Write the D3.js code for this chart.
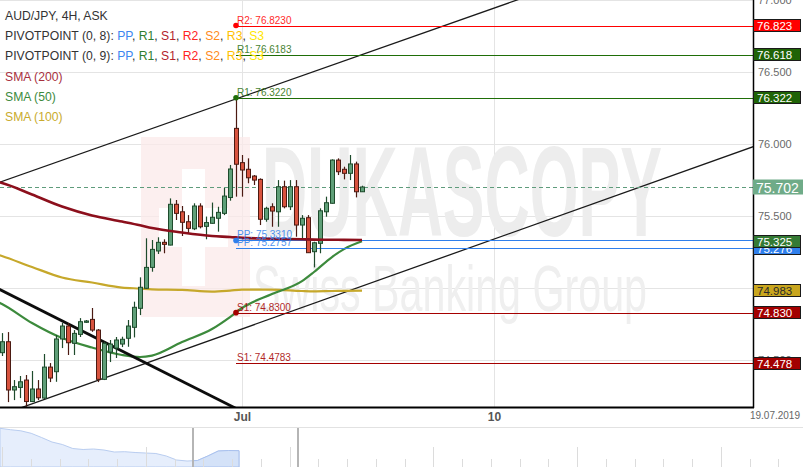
<!DOCTYPE html>
<html><head><meta charset="utf-8">
<script src="https://cdn.jsdelivr.net/npm/d3@7/dist/d3.min.js"></script>
<style>
html,body{margin:0;padding:0;background:#fff;overflow:hidden}
svg{display:block;font-family:"Liberation Sans",Arial,Helvetica,sans-serif}
</style></head><body>
<svg id="c" width="803" height="467"></svg>
<script>
// ---------------- DATA ----------------
const title = "AUD/JPY, 4H, ASK";
const opens  = [74.552,74.628,74.293,74.311,74.362,74.213,74.300,74.237,74.452,74.420,74.647,74.737,74.617,74.679,74.763,74.783,74.709,74.367,74.556,74.584,74.612,74.652,74.728,74.860,74.999,75.144,75.258,75.318,75.299,75.582,75.530,75.461,75.412,75.570,75.429,75.450,75.485,75.519,75.629,76.109,75.871,75.825,75.778,75.755,75.478,75.565,75.530,75.704,75.565,75.704,75.438,75.489,75.253,75.311,75.530,75.589,75.889,75.825,75.797,75.862,75.669];
const highs  = [74.688,74.695,74.362,74.390,74.397,74.425,74.362,74.543,74.480,74.674,74.758,74.758,74.709,74.792,74.779,74.862,74.716,74.628,74.640,74.661,74.663,74.779,74.906,75.075,75.346,75.334,75.353,75.339,75.623,75.612,75.570,75.507,75.589,75.589,75.497,75.594,75.565,75.695,75.855,76.322,75.924,75.901,75.785,75.762,75.565,75.589,75.750,75.746,75.750,75.750,75.507,75.507,75.322,75.554,75.635,75.894,75.901,75.843,75.924,75.878,75.711];
const lows   = [74.529,74.209,74.223,74.237,74.177,74.209,74.223,74.230,74.348,74.350,74.584,74.536,74.536,74.661,74.758,74.697,74.348,74.362,74.487,74.515,74.591,74.593,74.658,74.813,74.995,75.114,75.237,75.242,75.297,75.473,75.362,75.376,75.403,75.415,75.339,75.448,75.392,75.507,75.607,75.635,75.635,75.728,75.716,75.438,75.461,75.426,75.426,75.554,75.542,75.357,75.339,75.246,75.144,75.242,75.496,75.587,75.785,75.755,75.750,75.630,75.669];
const closes = [74.628,74.293,74.316,74.350,74.213,74.300,74.239,74.452,74.376,74.647,74.737,74.621,74.686,74.767,74.772,74.709,74.367,74.617,74.612,74.640,74.645,74.737,74.867,75.006,75.144,75.269,75.318,75.304,75.582,75.519,75.457,75.415,75.570,75.426,75.455,75.492,75.526,75.639,75.827,75.860,75.820,75.766,75.750,75.478,75.554,75.535,75.704,75.565,75.704,75.438,75.485,75.246,75.315,75.537,75.593,75.889,75.808,75.797,75.862,75.669,75.702];
const lastPrice = 75.702;

const smaIdx = [-1,0,5,10,15,20,23,25,30,35,38,40,45,50,52,55,57,60];
const sma200 = [75.740,75.730,75.650,75.566,75.504,75.462,75.436,75.417,75.386,75.362,75.355,75.349,75.343,75.339,75.337,75.336,75.335,75.334];
const sma50  = [74.910,74.890,74.758,74.654,74.588,74.536,74.522,74.532,74.626,74.716,74.799,74.862,74.959,75.049,75.112,75.216,75.271,75.325];
const sma100 = [75.237,75.223,75.147,75.074,75.039,75.004,74.997,74.992,74.988,74.976,74.983,74.990,74.990,74.980,74.978,74.980,74.981,74.983];

const pivotNames  = ["R2","R1","PP","S1","R1","PP","S1"];
const pivotValues = [76.8230,76.3220,75.3310,74.8300,76.6183,75.2757,74.4783];
const pivotSet    = [8,8,8,8,9,9,9];
const pivotStart  = 39;

// trend lines, two anchors each: [index, price]
const trendUpper = [[0,75.741],[39,76.313]];
const trendLower = [[4,74.182],[120,75.905]];
const trendDown  = [[0,74.983],[35,74.249]];

const yTicks = [77.0,76.5,76.0,75.5,75.0,74.5];
const xTickIdx = [40,82];
const xTickLabels = ["Jul","10"];
const endDateLabel = "19.07.2019";

const legendPivotItems = ["PP","R1","S1","R2","S2","R3","S3"];
const legendSma = ["SMA (200)","SMA (50)","SMA (100)"];

const navValues = [38.7,37.3,36.2,33.7,29.5,25,22.5,18.5,17.5,18,17,15,15.3,14.5,14,13.5,11,7,6,6.5,11,16,16.5,16.3];

// ---------------- STYLE ----------------
const pivotColor = {R2:"#ff0000",R1:"#1f6e08",PP:"#2f7fec",S1:"#a50000"};
const legendColor = {PP:"#3d86f0",R1:"#2f7d2f",S1:"#b3222c",R2:"#ff2222",S2:"#ff8a1a",R3:"#ffc000",S3:"#ffe600"};
const UP_FILL="#5f9f78", UP_STROKE="#1e4b2c", DN_FILL="#d8533e", DN_STROKE="#4b1a12";

// ---------------- CHART ----------------
const svg = d3.select("#c");
const PR = 753, PB = 407;
const x = d3.scaleLinear().domain([-1/3, 751/6]).range([0, PR]);
const y = d3.scaleLinear().domain([74.175, 77.0]).range([PB, 0]);

svg.append("defs").append("clipPath").attr("id","pc")
  .append("rect").attr("x",0).attr("y",0).attr("width",PR).attr("height",PB);

// grid
const grid = svg.append("g");
grid.selectAll("line.h").data(yTicks).join("line")
  .attr("x1",0).attr("x2",PR).attr("y1",d=>Math.round(y(d))+0.5).attr("y2",d=>Math.round(y(d))+0.5)
  .attr("stroke","#e4e4e4");
grid.selectAll("line.v").data(xTickIdx).join("line")
  .attr("y1",0).attr("y2",PB).attr("x1",d=>Math.round(x(d))+0.5).attr("x2",d=>Math.round(x(d))+0.5)
  .attr("stroke","#e4e4e4");

// watermark
const wm = svg.append("g");
wm.append("rect").attr("x",141).attr("y",137).attr("width",109).attr("height",180).attr("fill","#fbeaea").attr("opacity",0.75);
wm.append("rect").attr("x",182).attr("y",169).attr("width",23).attr("height",117).attr("fill","#fff");
wm.append("rect").attr("x",159).attr("y",208).attr("width",69).attr("height",39).attr("fill","#fff");
wm.append("text").attr("x",262).attr("y",236).attr("font-size",128).attr("font-weight","bold")
  .attr("textLength",400).attr("lengthAdjust","spacingAndGlyphs").attr("fill","#ededed").text("DUKASCOPY");
wm.append("text").attr("x",253).attr("y",311).attr("font-size",64)
  .attr("textLength",394).attr("lengthAdjust","spacingAndGlyphs").attr("fill","#efefef").text("Swiss Banking Group");

const plot = svg.append("g").attr("clip-path","url(#pc)");

// trend lines (extended across plot)
function extLine(a, w, col){
  const x1=x(a[0][0]), y1=y(a[0][1]), x2=x(a[1][0]), y2=y(a[1][1]);
  const m=(y2-y1)/(x2-x1);
  plot.append("line").attr("x1",-20).attr("y1",y1+m*(-20-x1)).attr("x2",PR+20).attr("y2",y1+m*(PR+20-x1))
    .attr("stroke",col).attr("stroke-width",w);
}
extLine(trendUpper,1.3,"#1a1a1a");
extLine(trendLower,1.3,"#1a1a1a");

// SMA lines
function smaLine(vals,col,w){
  const line=d3.line().x((d,i)=>x(smaIdx[i])).y(d=>y(d)).curve(d3.curveMonotoneX);
  plot.append("path").attr("d",line(vals)).attr("fill","none").attr("stroke",col).attr("stroke-width",w);
}
smaLine(sma100,"#c6a82b",2.2);
smaLine(sma50,"#3c8a3c",2.2);

// last price dashed
plot.append("line").attr("x1",0).attr("x2",PR).attr("y1",Math.round(y(lastPrice))+0.5).attr("y2",Math.round(y(lastPrice))+0.5)
  .attr("stroke","#5f9c7c").attr("stroke-dasharray","4,3");

extLine(trendDown,2.8,"#0d0d0d");

// pivot lines
const pv = pivotValues.map((v,i)=>({v,name:pivotNames[i],set:pivotSet[i]}));
plot.selectAll("line.pv").data(pv).join("line")
  .attr("x1",x(pivotStart)).attr("x2",PR)
  .attr("y1",d=>Math.round(y(d.v))+0.5).attr("y2",d=>Math.round(y(d.v))+0.5)
  .attr("stroke",d=>pivotColor[d.name]).attr("stroke-width",1.2);

// candles
const cd = d3.range(opens.length).map(i=>({i,o:opens[i],h:highs[i],l:lows[i],c:closes[i]}));
const cg = plot.append("g");
cg.selectAll("line").data(cd).join("line")
  .attr("x1",d=>x(d.i)+0.5).attr("x2",d=>x(d.i)+0.5)
  .attr("y1",d=>y(d.h)).attr("y2",d=>y(d.l))
  .attr("stroke",d=>d.c>=d.o?UP_STROKE:DN_STROKE).attr("stroke-width",1.2);
cg.selectAll("rect").data(cd).join("rect")
  .attr("x",d=>x(d.i)-1.5).attr("width",4)
  .attr("y",d=>y(Math.max(d.o,d.c))).attr("height",d=>Math.max(1,Math.abs(y(d.o)-y(d.c))))
  .attr("fill",d=>d.c>=d.o?UP_FILL:DN_FILL).attr("stroke",d=>d.c>=d.o?UP_STROKE:DN_STROKE).attr("stroke-width",1);

smaLine(sma200,"#8c0f1c",2.6);

// pivot dots and labels
plot.selectAll("circle.pv").data(pv.filter(d=>d.set===8)).join("circle")
  .attr("cx",x(pivotStart)).attr("cy",d=>y(d.v)).attr("r",2.8).attr("fill",d=>pivotColor[d.name]);
plot.selectAll("text.pv").data(pv).join("text")
  .attr("x",x(pivotStart)+1).attr("y",d=>y(d.v)-2)
  .attr("font-size",10).attr("fill",d=>pivotColor[d.name]).attr("opacity",0.85)
  .text(d=>`${d.name}: ${d.v.toFixed(4)}`);

// axes lines
svg.append("line").attr("x1",PR+0.5).attr("x2",PR+0.5).attr("y1",0).attr("y2",PB+1).attr("stroke","#000").attr("stroke-width",1.5);
svg.append("line").attr("x1",0).attr("x2",PR+1).attr("y1",PB+0.5).attr("y2",PB+0.5).attr("stroke","#000").attr("stroke-width",2);

// y axis
const ya = svg.append("g").attr("transform",`translate(${PR},0)`)
  .call(d3.axisRight(y).tickValues(yTicks).tickSize(0).tickPadding(5).tickFormat(d3.format(".3f")));
ya.select(".domain").remove();
ya.selectAll("text").attr("fill","#6a6a6a").attr("font-size",11).attr("font-family","Liberation Sans, Arial, sans-serif");

// x axis
const xa = svg.append("g").attr("transform",`translate(0,${PB})`)
  .call(d3.axisBottom(x).tickValues(xTickIdx).tickSize(0).tickPadding(5).tickFormat((d,i)=>xTickLabels[i]));
xa.select(".domain").remove();
xa.selectAll("text").attr("fill","#555").attr("font-size",12).attr("font-weight","bold").attr("font-family","Liberation Sans, Arial, sans-serif");
svg.append("text").attr("x",800).attr("y",419).attr("text-anchor","end").attr("font-size",10).attr("fill","#666").text(endDateLabel);

// right value labels
const rl = [
  {v:pivotValues[0], bg:pivotColor.R2, fg:"#fff"},
  {v:pivotValues[4], bg:"#1f6306", fg:"#fff"},
  {v:pivotValues[1], bg:"#1f6306", fg:"#fff"},
  {v:sma100[sma100.length-1], bg:"#c9a61e", fg:"#2a2a2a"},
  {v:pivotValues[3], bg:"#a30000", fg:"#fff"},
  {v:pivotValues[6], bg:"#a30000", fg:"#fff"},
  {v:pivotValues[5], bg:"#2f7fec", fg:"#fff"},
  {v:sma50[sma50.length-1], bg:"#347a34", fg:"#fff"}
];
const rg = svg.append("g");
rl.forEach(d=>{
  const cy = y(d.v);
  rg.append("rect").attr("x",PR+0.5).attr("y",Math.round(cy-6.5)+0.5).attr("width",47).attr("height",12)
    .attr("fill",d.bg).attr("stroke","#1a1a1a").attr("stroke-width",1);
  rg.append("text").attr("x",PR+4).attr("y",Math.round(cy-6.5)+11).attr("font-size",11.5).attr("fill",d.fg)
    .text(d3.format(".3f")(d.v));
});
{
  const cy=y(lastPrice);
  rg.append("rect").attr("x",PR).attr("y",cy-7.5).attr("width",50).attr("height",15).attr("fill","#6fab88");
  rg.append("text").attr("x",PR+3).attr("y",cy+5.5).attr("font-size",14).attr("fill","#fff").text(d3.format(".3f")(lastPrice));
}

// legend
const lg = svg.append("g").attr("font-size",12.2);
lg.append("text").attr("x",5).attr("y",20).attr("fill","#333").text(title);
["(0, 8)","(0, 9)"].forEach((p,j)=>{
  const t = lg.append("text").attr("x",5).attr("y",40+20*j).attr("fill","#333");
  t.append("tspan").text(`PIVOTPOINT ${p}: `);
  legendPivotItems.forEach((it,k)=>{
    t.append("tspan").attr("fill",legendColor[it]).text(it);
    if(k<legendPivotItems.length-1) t.append("tspan").attr("fill","#333").text(", ");
  });
});
const smaCols=["#a8313e","#3d8a3d","#c9ab2e"];
legendSma.forEach((s,j)=>lg.append("text").attr("x",5).attr("y",81+20*j).attr("fill",smaCols[j]).text(s));

// navigator
const nav = svg.append("g");
nav.append("line").attr("x1",0).attr("x2",803).attr("y1",427.5).attr("y2",427.5).attr("stroke","#e2e2e2");
const nx = d3.scaleLinear().domain([0,navValues.length-1]).range([0,239]);
const ny = d3.scaleLinear().domain([0,40]).range([467,427]);
const area = d3.area().x((d,i)=>nx(i)).y0(467).y1(d=>ny(d));
nav.append("path").attr("d",area(navValues)).attr("fill","#e6eefc").attr("stroke","#b9cdf0");
nav.append("clipPath").attr("id","wc").append("rect").attr("x",193).attr("y",427).attr("width",105).attr("height",40);
nav.append("path").attr("d",area(navValues)).attr("fill","#d4e2f8").attr("stroke","#a9c1ee").attr("clip-path","url(#wc)");
d3.range(28).forEach(i=>{
  const xx=Math.round(2+28.75*i)+0.5;
  nav.append("line").attr("x1",xx).attr("x2",xx).attr("y1",i%5===0?447:459).attr("y2",467).attr("stroke","#dcdcdc");
});
[193,298].forEach(xx=>nav.append("line").attr("x1",xx).attr("x2",xx).attr("y1",428).attr("y2",467).attr("stroke","#b5b5b5").attr("stroke-width",2));
</script>
</body></html>
